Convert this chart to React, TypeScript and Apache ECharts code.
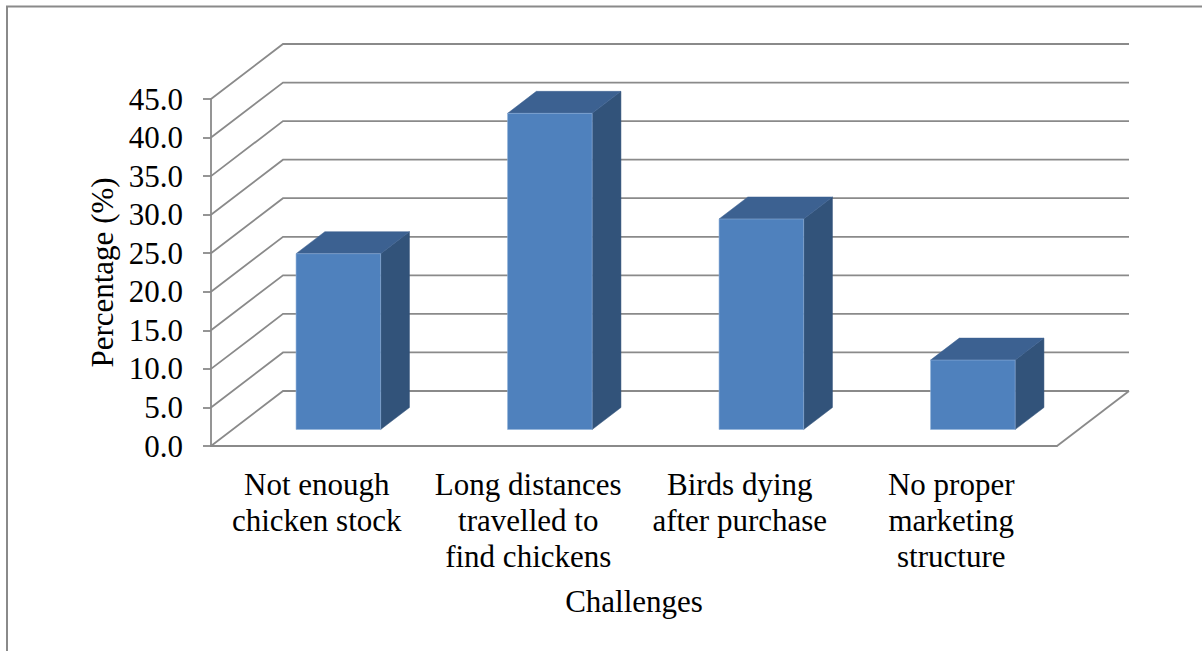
import React, { useEffect, useRef } from "react";
import * as echarts from "echarts";

// Chart content
const CATEGORIES = [
  "Not enough\nchicken stock",
  "Long distances\ntravelled to\nfind chickens",
  "Birds dying\nafter purchase",
  "No proper\nmarketing\nstructure",
];
const PERCENTAGES = [22.8, 41.0, 27.3, 9.0];
const Y_TICKS = [0, 5, 10, 15, 20, 25, 30, 35, 40, 45];
const X_TITLE = "Challenges";
const Y_TITLE = "Percentage (%)";

// Oblique depth of the 3-D box: offset from the front plane to the back wall (px)
const DEPTH_X = 72;
const DEPTH_Y = -55;
// Bars take 40% of a category's width and sit in the middle 40% of the depth
const BAR_WIDTH_RATIO = 0.4;
const BAR_DEPTH_START = 0.3;
const BAR_DEPTH_END = 0.7;

const FONT = "'Liberation Serif', 'Times New Roman', serif";
const LINE_COLOR = "#8a8a8a";
const FRONT_COLOR = "#4F81BD";
const TOP_COLOR = "#3C6191";
const SIDE_COLOR = "#32537A";

export default function App() {
  const ref = useRef<HTMLDivElement>(null);

  useEffect(() => {
    document.body.style.margin = "0";
    if (!ref.current) return;
    const chart = echarts.init(ref.current, undefined, { renderer: "svg" });

    const lineStyle = { stroke: LINE_COLOR, lineWidth: 1.8, fill: "none" };

    const option: any = {
      animation: false,
      backgroundColor: "#ffffff",
      textStyle: { fontFamily: FONT },
      grid: { left: 211, top: 99, width: 846, height: 347, containLabel: false },
      xAxis: {
        type: "category",
        data: CATEGORIES,
        axisLine: { show: true, lineStyle: { color: LINE_COLOR, width: 1.8 } },
        axisTick: { show: false },
        splitLine: { show: false },
        axisLabel: {
          interval: 0,
          margin: 20,
          color: "#000",
          fontFamily: FONT,
          fontSize: 31,
          lineHeight: 36,
        },
        name: X_TITLE,
        nameLocation: "middle",
        nameGap: 140,
        nameTextStyle: { color: "#000", fontFamily: FONT, fontSize: 31 },
      },
      yAxis: {
        type: "value",
        min: 0,
        max: 45,
        interval: 5,
        axisLine: { show: true, lineStyle: { color: LINE_COLOR, width: 1.8 } },
        axisTick: { show: true, length: 8, lineStyle: { color: LINE_COLOR, width: 1.8 } },
        splitLine: { show: false },
        axisLabel: {
          margin: 28,
          color: "#000",
          fontFamily: FONT,
          fontSize: 31,
          formatter: (v: number) => v.toFixed(1),
        },
        name: Y_TITLE,
        nameLocation: "middle",
        nameRotate: 90,
        nameGap: 92,
        nameTextStyle: { color: "#000", fontFamily: FONT, fontSize: 31 },
      },
      graphic: [
        {
          type: "rect",
          shape: { x: 7, y: 6.5, width: 1400, height: 900 },
          style: { fill: "none", stroke: LINE_COLOR, lineWidth: 2 },
          silent: true,
          z: -10,
        },
      ],
      series: [
        {
          // Back wall gridlines, left wall diagonals and the floor
          type: "custom",
          clip: false,
          silent: true,
          z: 1,
          data: Y_TICKS.map((v) => [0, v]),
          renderItem: (params: any, api: any) => {
            const cs = params.coordSys;
            const val = api.value(1);
            const y = api.coord([0, val])[1];
            const left = cs.x;
            const right = cs.x + cs.width;
            const children: any[] = [
              {
                type: "polyline",
                shape: {
                  points: [
                    [left, y],
                    [left + DEPTH_X, y + DEPTH_Y],
                    [right + DEPTH_X, y + DEPTH_Y],
                  ],
                },
                style: lineStyle,
              },
            ];
            if (val === 0) {
              children.push({
                type: "line",
                shape: { x1: right, y1: y, x2: right + DEPTH_X, y2: y + DEPTH_Y },
                style: lineStyle,
              });
            }
            return { type: "group", children };
          },
        },
        {
          // 3-D bars: side, top and front faces
          type: "custom",
          clip: false,
          z: 5,
          data: PERCENTAGES.map((v, i) => [i, v]),
          renderItem: (params: any, api: any) => {
            const idx = api.value(0);
            const v = api.value(1);
            const top = api.coord([idx, v]);
            const base = api.coord([idx, 0]);
            const bw = api.size([1, 0])[0] * BAR_WIDTH_RATIO;
            const ox = DEPTH_X * BAR_DEPTH_START;
            const oy = DEPTH_Y * BAR_DEPTH_START;
            const dx = DEPTH_X * (BAR_DEPTH_END - BAR_DEPTH_START);
            const dy = DEPTH_Y * (BAR_DEPTH_END - BAR_DEPTH_START);
            const x0 = top[0] - bw / 2 + ox;
            const x1 = x0 + bw;
            const yT = top[1] + oy;
            const yB = base[1] + oy;
            return {
              type: "group",
              children: [
                {
                  type: "polygon",
                  shape: { points: [[x1, yT], [x1 + dx, yT + dy], [x1 + dx, yB + dy], [x1, yB]] },
                  style: { fill: SIDE_COLOR, stroke: SIDE_COLOR, lineWidth: 0.5 },
                },
                {
                  type: "polygon",
                  shape: { points: [[x0, yT], [x1, yT], [x1 + dx, yT + dy], [x0 + dx, yT + dy]] },
                  style: { fill: TOP_COLOR, stroke: TOP_COLOR, lineWidth: 0.5 },
                },
                {
                  type: "rect",
                  shape: { x: x0, y: yT, width: bw, height: yB - yT },
                  style: { fill: FRONT_COLOR, stroke: "#8fb0d8", lineWidth: 0.6 },
                },
              ],
            };
          },
        },
      ],
    };

    chart.setOption(option);
    return () => chart.dispose();
  }, []);

  return <div ref={ref} style={{ width: 1202, height: 651 }} />;
}
